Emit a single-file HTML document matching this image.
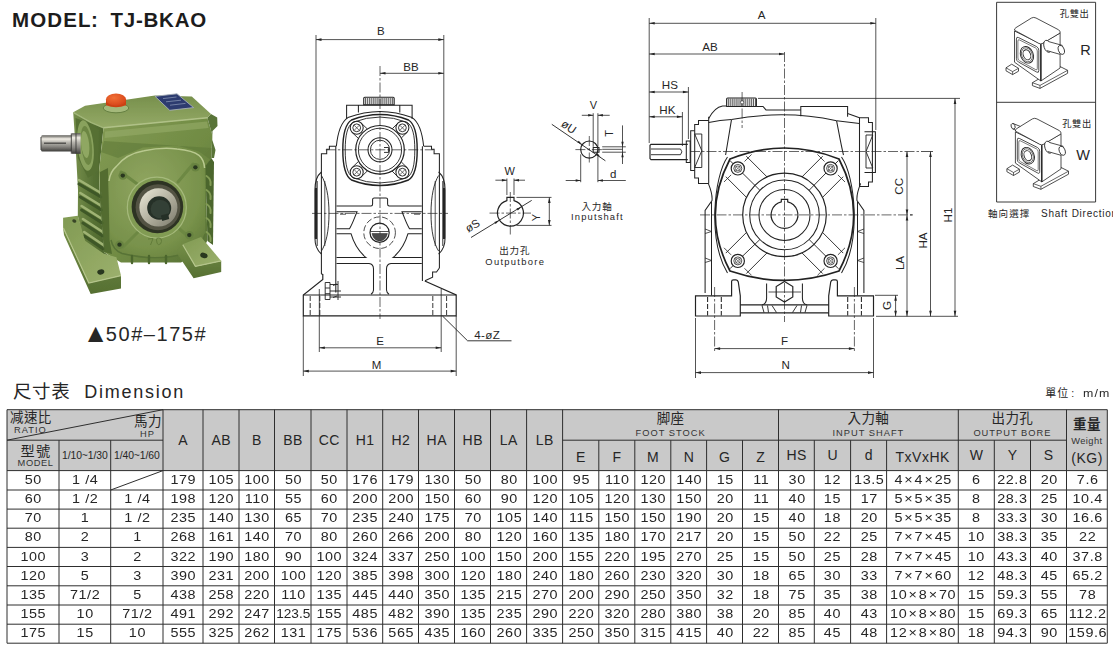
<!DOCTYPE html>
<html lang="zh-Hant"><head><meta charset="utf-8"><title>TJ-BKAO Dimension</title>
<style>
html,body{margin:0;padding:0;background:#fff;}
#page{position:relative;width:1113px;height:653px;overflow:hidden;background:#fff;
 font-family:"Liberation Sans","Noto Sans CJK TC",sans-serif;color:#262626;}
#page svg{position:absolute;left:0;top:0;}
.t{position:absolute;white-space:nowrap;}
.c{position:absolute;text-align:center;white-space:nowrap;}
.d{font-size:12.2px;letter-spacing:0.5px;text-indent:0.5px;margin-top:0.2px;transform:scaleX(1.18);}
.h{font-size:14px;letter-spacing:0.5px;text-indent:0.5px;}
.zh{font-size:13.5px;letter-spacing:0.4px;line-height:16px;}
.en{font-size:9.3px;letter-spacing:1px;line-height:10px;color:#333;}
.sm{font-size:10.4px;letter-spacing:-0.1px;margin-top:1.3px;}
.b{font-weight:bold;}
.n{letter-spacing:0;text-indent:0;transform:scaleX(1.12);}
.x{letter-spacing:0;padding:0 1.6px 0 1.1px;}
svg text{font-family:"Liberation Sans","Noto Sans CJK TC",sans-serif;fill:#262626;}
</style></head><body>
<div id="page">
<svg width="1113" height="653" viewBox="0 0 1113 653">
<g id="photo"><defs>
<linearGradient id="gTop" x1="0" y1="0" x2="0" y2="1"><stop offset="0" stop-color="#7a9552"/><stop offset="1" stop-color="#98b06f"/></linearGradient>
<linearGradient id="gFront" x1="0" y1="0" x2="1" y2="1"><stop offset="0" stop-color="#86a05a"/><stop offset="0.55" stop-color="#73904a"/><stop offset="1" stop-color="#587538"/></linearGradient>
<linearGradient id="gSide" x1="0" y1="0" x2="1" y2="0"><stop offset="0" stop-color="#7a9553"/><stop offset="0.5" stop-color="#5a763a"/><stop offset="1" stop-color="#48632e"/></linearGradient>
<radialGradient id="gFlange" cx="0.4" cy="0.35" r="0.8"><stop offset="0" stop-color="#93ab68"/><stop offset="0.7" stop-color="#7b9751"/><stop offset="1" stop-color="#658140"/></radialGradient>
<linearGradient id="gFootTop" x1="0" y1="0" x2="1" y2="1"><stop offset="0" stop-color="#84a05a"/><stop offset="1" stop-color="#a0b776"/></linearGradient>
<linearGradient id="gFootFront" x1="0" y1="0" x2="0" y2="1"><stop offset="0" stop-color="#77934d"/><stop offset="1" stop-color="#587437"/></linearGradient>
<linearGradient id="gShaft" x1="0" y1="0" x2="0" y2="1"><stop offset="0" stop-color="#5e5e5e"/><stop offset="0.22" stop-color="#f6f6f6"/><stop offset="0.45" stop-color="#b9b9b9"/><stop offset="0.7" stop-color="#8a8a8a"/><stop offset="1" stop-color="#3f3f3f"/></linearGradient>
<linearGradient id="gRing" x1="0" y1="0" x2="1" y2="1"><stop offset="0" stop-color="#f2f2ea"/><stop offset="0.5" stop-color="#b9b9ae"/><stop offset="1" stop-color="#7c7c72"/></linearGradient>
<radialGradient id="gCap" cx="0.4" cy="0.35" r="0.7"><stop offset="0" stop-color="#f7733a"/><stop offset="1" stop-color="#d9461a"/></radialGradient>
<filter id="soft" x="-5%" y="-5%" width="110%" height="110%"><feGaussianBlur stdDeviation="0.55" result="b"/><feColorMatrix in="b" type="matrix" values="0.95 0 0 0 0  0 0.925 0 0 0  0 0 0.85 0 0  0 0 0 1 0"/></filter>
</defs>
<g filter="url(#soft)"><path d="M73.2 112.2L90.7 122.3L103.5 127.8L99 172L100 200L104 252L112 258L100 256L84 243L77.8 215.8L78 190L76 153.5Z" fill="url(#gSide)"/>
<path d="M103.5 127.8L207.4 117.7L212.3 135L211.3 158L207 166L206.3 200L207.5 240L203 250L181 262.5H121L110 256L104 252L100 200L99 172Z" fill="url(#gFront)"/>
<path d="M211 114L217.2 117.5L217.5 126L212.5 131L212.3 140L215.5 150L214 158L211.3 158L212.3 135L207.4 117.7Z" fill="#5b783c"/>
<path d="M73.2 112.2L85.1 105.7L155 95.6L191.8 96.5L211 114L207.4 117.7L103.5 127.8L90.7 122.3Z" fill="url(#gTop)"/>
<path d="M103.5 127.8L207.4 117.7" stroke="#b4c892" stroke-width="1.6" fill="none"/>
<path d="M73.5 112.6L90.7 122.3L103.5 127.8" stroke="#a5bc82" stroke-width="1.3" fill="none"/>
<path d="M90.7 123.5L99 130L98 171L88 178L78 158L75.5 118Z" fill="#587438"/>
<ellipse cx="85.5" cy="145.5" rx="8" ry="25.5" transform="rotate(-6 85.5 145.5)" fill="#8ca765"/>
<ellipse cx="86.5" cy="145.5" rx="5.4" ry="19.5" transform="rotate(-6 86.5 145.5)" fill="#6e8b48"/>
<ellipse cx="85.2" cy="144.5" rx="4" ry="13.5" transform="rotate(-6 85.2 144.5)" fill="#93ad6b"/>
<path d="M79.0 184L101.0 197" stroke="#3f5a29" stroke-width="3" fill="none" stroke-linecap="round"/>
<path d="M79.0 180L101.0 193" stroke="#a3ba7d" stroke-width="2.6" fill="none" stroke-linecap="round"/>
<path d="M80.3 197L101.6 210" stroke="#3f5a29" stroke-width="3" fill="none" stroke-linecap="round"/>
<path d="M80.3 193L101.6 206" stroke="#a3ba7d" stroke-width="2.6" fill="none" stroke-linecap="round"/>
<path d="M81.6 210L102.2 223" stroke="#3f5a29" stroke-width="3" fill="none" stroke-linecap="round"/>
<path d="M81.6 206L102.2 219" stroke="#a3ba7d" stroke-width="2.6" fill="none" stroke-linecap="round"/>
<path d="M82.9 223L102.8 236" stroke="#3f5a29" stroke-width="3" fill="none" stroke-linecap="round"/>
<path d="M82.9 219L102.8 232" stroke="#a3ba7d" stroke-width="2.6" fill="none" stroke-linecap="round"/>
<path d="M84.2 236L103.4 249" stroke="#3f5a29" stroke-width="3" fill="none" stroke-linecap="round"/>
<path d="M84.2 232L103.4 245" stroke="#a3ba7d" stroke-width="2.6" fill="none" stroke-linecap="round"/>
<path d="M101 152L118 158L143 147.5L177 145.5L199 151.5L210.8 160L211.6 148L104 141Z" fill="#5f7c3d" opacity="0.55"/>
<path d="M105 131.5L207 121.5L208.5 128L104.6 138Z" fill="#9ab372" opacity="0.6"/>
<path d="M100 172L108 168L109.5 240L112 254L104 252L100 200Z" fill="#506b33" opacity="0.9"/>
<path d="M205.5 166L211.3 158L214 162L213 245L207.5 241L206.3 200Z" fill="#4e6a32"/>
<path d="M206.5 176Q211.5 179 210.5 185" stroke="#86a25c" stroke-width="2" fill="none" stroke-linecap="round"/>
<path d="M206.5 190Q211.5 193 210.5 199" stroke="#86a25c" stroke-width="2" fill="none" stroke-linecap="round"/>
<path d="M206.5 204Q211.5 207 210.5 213" stroke="#86a25c" stroke-width="2" fill="none" stroke-linecap="round"/>
<path d="M206.5 218Q211.5 221 210.5 227" stroke="#86a25c" stroke-width="2" fill="none" stroke-linecap="round"/>
<path d="M206.5 232Q211.5 235 210.5 241" stroke="#86a25c" stroke-width="2" fill="none" stroke-linecap="round"/>
<path d="M116.4 166.4Q126 154 144 150.8Q162 147 177 149Q193 150.5 199 155.4Q204.5 160 204.8 170L205.2 232Q203 246 190 251.5Q160 262 121 253Q111.5 248 110.2 236L108.6 183Q109.5 173 116.4 166.4Z" fill="url(#gFlange)"/>
<path d="M109 181Q110 172 116.4 166.4Q126 154 144 150.8Q162 147 177 149Q193 150.5 199 155.4Q204 159.5 204.6 168" stroke="#bdd09a" stroke-width="1.5" fill="none"/>
<path d="M111 240Q113 250 122 253.5Q160 262.5 190 252Q202 247 205 234" stroke="#5a773b" stroke-width="1.4" fill="none"/>
<path d="M121 172L140 186M193 164L178 182M123 247L140 230M190 238L176 226" stroke="#6f8d49" stroke-width="3" fill="none" stroke-linecap="round"/>
<ellipse cx="156.8" cy="207.6" rx="29.5" ry="30.5" fill="#84a05a"/>
<ellipse cx="156.8" cy="207.6" rx="29.5" ry="30.5" fill="none" stroke="#a9c085" stroke-width="1.2"/>
<ellipse cx="157.4" cy="206.8" rx="25.8" ry="26.4" fill="#2f3426"/>
<ellipse cx="158" cy="207.2" rx="22.4" ry="23" fill="#55564a"/>
<ellipse cx="158.4" cy="207.4" rx="19" ry="19.2" fill="url(#gRing)"/>
<ellipse cx="159.2" cy="208" rx="12" ry="11.8" fill="#26302a"/>
<ellipse cx="160.2" cy="209" rx="9.6" ry="9.2" fill="#35423a"/>
<path d="M161 215.5L168.2 213.6L169.2 219L162.2 221Z" fill="#26302a"/>
<ellipse cx="122.8" cy="175.6" rx="4.4" ry="4.2" fill="#6b8846"/>
<ellipse cx="122.8" cy="175.6" rx="2.2" ry="2.1" fill="#2c3a22"/>
<ellipse cx="195.4" cy="167.3" rx="4.4" ry="4.2" fill="#6b8846"/>
<ellipse cx="195.4" cy="167.3" rx="2.2" ry="2.1" fill="#2c3a22"/>
<ellipse cx="119.5" cy="244.7" rx="4.4" ry="4.2" fill="#6b8846"/>
<ellipse cx="119.5" cy="244.7" rx="2.2" ry="2.1" fill="#2c3a22"/>
<ellipse cx="189.3" cy="235.1" rx="4.4" ry="4.2" fill="#6b8846"/>
<ellipse cx="189.3" cy="235.1" rx="2.2" ry="2.1" fill="#2c3a22"/>
<path d="M148 239L153 238.5L150.5 245M156.5 240Q156 237.8 159 238Q162 238.4 161.5 241.5Q161 244.8 158.6 244.6Q156.6 244.4 156.5 240Z" stroke="#658140" stroke-width="1" fill="none"/>
<path d="M132 256V263" stroke="#4e6a33" stroke-width="2.4" fill="none" stroke-linecap="round"/>
<path d="M149 256V263" stroke="#4e6a33" stroke-width="2.4" fill="none" stroke-linecap="round"/>
<path d="M166 256V263" stroke="#4e6a33" stroke-width="2.4" fill="none" stroke-linecap="round"/>
<path d="M63.1 227.8L88.8 283L121 275.6V288.5L90.7 294L64 235.1Z" fill="url(#gFootFront)"/>
<path d="M63.1 217.7L77.8 215.8L85.1 240.7L103.5 253.5L116.4 257.2L121 275.6L88.8 283L63.1 227.8Z" fill="url(#gFootTop)"/>
<path d="M63.4 228L88.8 283L121 275.6" stroke="#b9cc96" stroke-width="1.2" fill="none"/>
<ellipse cx="100.8" cy="271.9" rx="3.6" ry="2.6" transform="rotate(-15 100.8 271.9)" fill="#2c3a22"/>
<ellipse cx="74.3" cy="221" rx="2.2" ry="1.6" transform="rotate(30 74.3 221)" fill="#3a4a2b"/>
<path d="M177 253.5L182.6 244.3L195.4 266.4L221.2 260.9V272L193.6 278.3Z" fill="url(#gFootFront)"/>
<path d="M182.6 244.3L201 237L221.2 260.9L195.4 266.4Z" fill="url(#gFootTop)"/>
<path d="M182.8 244.8L195.4 266.4L221.2 260.9" stroke="#b9cc96" stroke-width="1.2" fill="none"/>
<ellipse cx="203.9" cy="255.4" rx="3.8" ry="2.6" transform="rotate(15 203.9 255.4)" fill="#2c3a22"/>
<path d="M42.5 135.3H78V151.6H42.5Q41 151.6 41 150V137Q41 135.3 42.5 135.3Z" fill="url(#gShaft)"/>
<path d="M71.6 133.2H80.6V153.8H71.6Z" fill="url(#gShaft)"/>
<path d="M41 137V150" stroke="#444" stroke-width="1" fill="none"/>
<path d="M44 143.2H66" stroke="#4a4a4a" stroke-width="1.3" fill="none"/>
<path d="M71.3 133.5V153.6M76 133.5V153.6" stroke="#3c3c3c" stroke-width="0.9" fill="none"/>
<ellipse cx="116" cy="108" rx="12.8" ry="4.8" fill="#a8bf84" stroke="#627f42" stroke-width="0.9"/>
<path d="M106 99.5V105.2Q116 109.5 126 105.2V99.5Z" fill="#cf4417"/>
<ellipse cx="116" cy="99.6" rx="10.1" ry="6.1" fill="url(#gCap)"/>
<path d="M155 96.3L177 93.8L193.6 107.6L169.7 110.3Z" fill="#2d3e78" stroke="#aab3c6" stroke-width="0.9"/>
<path d="M163 98.6L176.5 97M166 101.8L181 100.2M170 105.2L185.5 103.4" stroke="#7d8bb5" stroke-width="0.9" fill="none"/></g></g>
<g id="front"><path d="M316 35V198M443.8 35V227" fill="none" stroke="#222" stroke-width="0.78" />
<path d="M316 39.6H443.8" fill="none" stroke="#222" stroke-width="0.78" /><path d="M316.0 39.6L321.5 38.3L321.5 40.9Z" fill="#222"/><path d="M443.8 39.6L438.3 40.9L438.3 38.3Z" fill="#222"/>
<path d="M380 73.3H443.8" fill="none" stroke="#222" stroke-width="0.78" /><path d="M380.0 73.3L385.5 72.0L385.5 74.6Z" fill="#222"/><path d="M443.8 73.3L438.3 74.6L438.3 72.0Z" fill="#222"/>
<path d="M380 66V319" fill="none" stroke="#222" stroke-width="0.69" stroke-dasharray="10 2 2.5 2"/>
<text x="380.8" y="34.9" font-size="11.5" text-anchor="middle" >B</text>
<text x="410.9" y="70.9" font-size="11.5" text-anchor="middle" >BB</text>
<path d="M363.7 104.7V98.3Q363.7 97.3 364.7 97.3H393.2Q394.2 97.3 394.2 98.3V104.7Z" fill="none" stroke="#222" stroke-width="1.04" />
<path d="M365.4 98V104.5M367.3 98V104.5M369.3 98V104.5M371.2 98V104.5M373.2 98V104.5M375.1 98V104.5M377.1 98V104.5M379.0 98V104.5M381.0 98V104.5M382.9 98V104.5M384.9 98V104.5M386.8 98V104.5M388.8 98V104.5M390.8 98V104.5M392.7 98V104.5" fill="none" stroke="#222" stroke-width="0.81" />
<path d="M346.6 119V105.3H412.1V119M358.4 105.3V112.5M399.8 105.3V112.5" fill="none" stroke="#222" stroke-width="1.04" />
<path d="M336.4 146C338 130 342 121.5 347.9 117.6Q380 105.5 412.1 117.6C418 121.5 422 130 423.6 146" fill="none" stroke="#222" stroke-width="1.04" />
<path d="M342.8 150C342.8 134 345 124 351.5 120Q380 109 408.5 120C415 124 417.2 134 417.2 150C417.2 166 415 176 408.5 180Q380 191 351.5 180C345 176 342.8 166 342.8 150Z" fill="none" stroke="#222" stroke-width="1.43" />
<path d="M345.2 150C345.2 135.5 347.2 126 353 122.3Q380 111.8 407 122.3C412.8 126 414.8 135.5 414.8 150C414.8 164.5 412.8 174 407 177.7Q380 188.2 353 177.7C347.2 174 345.2 164.5 345.2 150Z" fill="none" stroke="#222" stroke-width="0.91" />
<circle cx="356.7" cy="127.8" r="6.5" fill="none" stroke="#222" stroke-width="1.04" />
<circle cx="356.7" cy="127.8" r="3.9" fill="none" stroke="#222" stroke-width="0.91" />
<path d="M354.0 125.1L359.4 130.5M359.4 125.1L354.0 130.5" fill="none" stroke="#222" stroke-width="0.65" />
<path d="M352.2 132.5L358.5 138.5" fill="none" stroke="#222" stroke-width="0.91" />
<path d="M361.2 123.1L367.4 129.0" fill="none" stroke="#222" stroke-width="0.91" />
<circle cx="402.4" cy="127.8" r="6.5" fill="none" stroke="#222" stroke-width="1.04" />
<circle cx="402.4" cy="127.8" r="3.9" fill="none" stroke="#222" stroke-width="0.91" />
<path d="M399.7 125.1L405.09999999999997 130.5M405.09999999999997 125.1L399.7 130.5" fill="none" stroke="#222" stroke-width="0.65" />
<path d="M397.8 123.2L392.2 128.8" fill="none" stroke="#222" stroke-width="0.91" />
<path d="M407.0 132.4L401.3 138.0" fill="none" stroke="#222" stroke-width="0.91" />
<circle cx="356.7" cy="172.2" r="6.5" fill="none" stroke="#222" stroke-width="1.04" />
<circle cx="356.7" cy="172.2" r="3.9" fill="none" stroke="#222" stroke-width="0.91" />
<path d="M354.0 169.5L359.4 174.89999999999998M359.4 169.5L354.0 174.89999999999998" fill="none" stroke="#222" stroke-width="0.65" />
<path d="M361.2 176.9L367.6 170.7" fill="none" stroke="#222" stroke-width="0.91" />
<path d="M352.2 167.5L358.6 161.3" fill="none" stroke="#222" stroke-width="0.91" />
<circle cx="402.4" cy="172.2" r="6.5" fill="none" stroke="#222" stroke-width="1.04" />
<circle cx="402.4" cy="172.2" r="3.9" fill="none" stroke="#222" stroke-width="0.91" />
<path d="M399.7 169.5L405.09999999999997 174.89999999999998M405.09999999999997 169.5L399.7 174.89999999999998" fill="none" stroke="#222" stroke-width="0.65" />
<path d="M407.0 167.6L401.2 161.8" fill="none" stroke="#222" stroke-width="0.91" />
<path d="M397.8 176.8L392.0 171.0" fill="none" stroke="#222" stroke-width="0.91" />
<circle cx="380" cy="149.8" r="24.3" fill="none" stroke="#222" stroke-width="1.17" />
<circle cx="380" cy="149.8" r="21.6" fill="none" stroke="#222" stroke-width="0.91" />
<circle cx="380" cy="149.8" r="12" fill="none" stroke="#222" stroke-width="1.04" />
<circle cx="380" cy="149.8" r="9.6" fill="none" stroke="#222" stroke-width="0.91" />
<path d="M384 147.5H388.6V152.4H384" fill="none" stroke="#222" stroke-width="0.91" />
<path d="M325.8 149.8H433.3" fill="none" stroke="#222" stroke-width="0.69" stroke-dasharray="10 2 2.5 2"/>
<path d="M321.4 274V153.7H326.7V149.3H329.4V146.3H336.4" fill="none" stroke="#222" stroke-width="1.04" />
<path d="M439.4 268V153.7H434.1V149.3H431.5V146.3H423.6" fill="none" stroke="#222" stroke-width="1.04" />
<path d="M335.8 146.3V292.5M422.4 146.3V281" fill="none" stroke="#222" stroke-width="1.04" />
<path d="M321.4 172C316.5 176 314.9 183 314.9 190V237.5C314.9 244 316.5 250 321.4 254" fill="none" stroke="#222" stroke-width="1.04" />
<path d="M321.4 175.5C326 183 329 196 329 213.4C329 231 326 244 321.4 251" fill="none" stroke="#222" stroke-width="0.91" />
<path d="M317.2 181V246" fill="none" stroke="#222" stroke-width="0.91" />
<path d="M316 188V239" fill="none" stroke="#222" stroke-width="1.95" />
<path d="M324.8 181V246" fill="none" stroke="#222" stroke-width="0.78" />
<path d="M438.6 172C443.5 176 445.1 183 445.1 190V237.5C445.1 244 443.5 250 438.6 254" fill="none" stroke="#222" stroke-width="1.04" />
<path d="M438.6 175.5C434 183 431 196 431 213.4C431 231 434 244 438.6 251" fill="none" stroke="#222" stroke-width="0.91" />
<path d="M442.8 181V246" fill="none" stroke="#222" stroke-width="0.91" />
<path d="M444 188V239" fill="none" stroke="#222" stroke-width="1.95" />
<path d="M435.2 181V246" fill="none" stroke="#222" stroke-width="0.78" />
<path d="M312 213.4H448" fill="none" stroke="#222" stroke-width="0.69" stroke-dasharray="10 2 2.5 2"/>
<path d="M336.5 206H371Q372.6 206 372.6 204V199.5Q372.6 197.9 374.2 197.9H386Q387.6 197.9 387.6 199.5V204Q387.6 206 389.2 206H421.8" fill="none" stroke="#222" stroke-width="1.04" />
<path d="M336.5 211.8H357C354 219 352.5 224 349.5 228.7H336.5" fill="none" stroke="#222" stroke-width="1.04" />
<path d="M421.8 211.8H402C405 219 406.5 224 409.5 228.7H421.8" fill="none" stroke="#222" stroke-width="1.04" />
<path d="M336.5 233.7H351C354 244 358 251 366 257.6H336.5" fill="none" stroke="#222" stroke-width="1.04" />
<path d="M421.8 233.7H408C405 244 401 251 393 257.6H421.8" fill="none" stroke="#222" stroke-width="1.04" />
<path d="M336.5 263.5H369Q373.5 264 373.5 269V290Q373.3 293 371 294.3" fill="none" stroke="#222" stroke-width="1.04" />
<path d="M421.8 263.5H391Q386.5 264 386.5 269V290Q386.7 293 389 294.3" fill="none" stroke="#222" stroke-width="1.04" />
<path d="M340 214.2H346M414 214.2H420" fill="none" stroke="#222" stroke-width="0.78" />
<circle cx="379.6" cy="232.7" r="9.6" fill="none" stroke="#222" stroke-width="1.17" />
<circle cx="379.6" cy="232.7" r="15.8" fill="none" stroke="#222" stroke-width="0.8" stroke-dasharray="6 2.5"/>
<path d="M372 233.5H387.4C386 239 383 241 379.6 241C376.2 241 373.4 239 372 233.5Z" fill="#4a4a4a" stroke="#222" stroke-width="0.5"/>
<path d="M370.5 231.5H388.8" fill="none" stroke="#222" stroke-width="0.78" />
<path d="M321.4 274L322.8 274.5V279.5L303.3 295V315.8H456.2V295L424.8 281" fill="none" stroke="#222" stroke-width="1.17" />
<path d="M439.4 268L436.5 272H432.6V277.2L425 280.8" fill="none" stroke="#222" stroke-width="1.04" />
<path d="M303.3 295H456.2" fill="none" stroke="#222" stroke-width="1.04" />
<path d="M310.2 296V315.5M319.8 296V315.5M432.8 296V315.5M446.6 296V315.5" fill="none" stroke="#222" stroke-width="0.91" stroke-dasharray="5 2"/>
<path d="M325.2 282.5H330V299.5H325.2ZM325.2 288H330M325.2 293.7H330M330 284.5H338M330 291H341M330 297H341M338 281V300" fill="none" stroke="#222" stroke-width="0.91" />
<path d="M333 285.5L337 284M333 297.5L337 296" fill="none" stroke="#222" stroke-width="0.91" />
<path d="M319.3 289V352M441.2 289V352M303.3 316V376M456.2 316V376" fill="none" stroke="#222" stroke-width="0.78" />
<path d="M319.3 347.8H441.2" fill="none" stroke="#222" stroke-width="0.78" /><path d="M319.3 347.8L324.8 346.5L324.8 349.1Z" fill="#222"/><path d="M441.2 347.8L435.7 349.1L435.7 346.5Z" fill="#222"/>
<path d="M303.3 371.1H456.2" fill="none" stroke="#222" stroke-width="0.78" /><path d="M303.3 371.1L308.8 369.8L308.8 372.4Z" fill="#222"/><path d="M456.2 371.1L450.7 372.4L450.7 369.8Z" fill="#222"/>
<text x="380" y="345" font-size="11.5" text-anchor="middle" >E</text>
<text x="376.5" y="368.5" font-size="11.5" text-anchor="middle" >M</text>
<path d="M442.5 316L467.6 340.8H511.5" fill="none" stroke="#222" stroke-width="0.91" />
<text x="487.2" y="339" font-size="11.6" text-anchor="middle" letter-spacing="0.3">4-øZ</text></g>
<g id="mid"><path d="M514.0 200.6A13 13 0 1 1 506.9 200.6V197.4H514.0Z" fill="none" stroke="#222" stroke-width="1.17" />
<path d="M489.5 213.1H531" fill="none" stroke="#222" stroke-width="0.69" stroke-dasharray="10 2 2.5 2"/>
<path d="M510.3 192V234.5" fill="none" stroke="#222" stroke-width="0.69" stroke-dasharray="10 2 2.5 2"/>
<path d="M506.9 178.5V195M514.0 178.5V195" fill="none" stroke="#222" stroke-width="0.78" />
<path d="M495.4 180.2H506.9M514.0 180.2H525" fill="none" stroke="#222" stroke-width="0.78" />
<path d="M506.9 180.2L501.9 181.4L501.9 179.0Z" fill="#222"/><path d="M514.0 180.2L519.0 179.0L519.0 181.4Z" fill="#222"/>
<text x="509.6" y="175" font-size="11" text-anchor="middle" >W</text>
<path d="M516.5 197.4H551.5M516.5 225.4H551.5" fill="none" stroke="#222" stroke-width="0.78" />
<path d="M549.3 197.4V225.4" fill="none" stroke="#222" stroke-width="0.78" /><path d="M549.3 197.4L550.6 202.9L548.0 202.9Z" fill="#222"/><path d="M549.3 225.4L548.0 219.9L550.6 219.9Z" fill="#222"/>
<text x="540" y="217.5" font-size="11" text-anchor="middle" transform="rotate(-90 540 217.5)" >Y</text>
<path d="M471 237.5L531.7 200.4" fill="none" stroke="#222" stroke-width="0.91" />
<path d="M499.2 220.5L495.6 224.1L494.3 222.1Z" fill="#222"/>
<path d="M521.4 206.9L517.8 210.6L516.5 208.5Z" fill="#222"/>
<text x="474.5" y="229" font-size="11.5" text-anchor="middle" transform="rotate(-31 474.5 229)" >øS</text>
<text x="514.8" y="253.5" font-size="9.5" text-anchor="middle" letter-spacing="0.9">出力孔</text>
<text x="515.3" y="264.8" font-size="9.4" text-anchor="middle" letter-spacing="1.3">Outputbore</text>
<circle cx="589.3" cy="149.6" r="8.6" fill="none" stroke="#222" stroke-width="1.17" />
<path d="M593.2 147.5H599V152.2H593.2Z" fill="none" stroke="#222" stroke-width="1.04" />
<path d="M575.4 149.6H602.5" fill="none" stroke="#222" stroke-width="0.69" stroke-dasharray="10 2 2.5 2"/>
<path d="M589.3 136V163.5" fill="none" stroke="#222" stroke-width="0.69" stroke-dasharray="10 2 2.5 2"/>
<path d="M593.2 113.2V146.8M597.9 113.2V146.8" fill="none" stroke="#222" stroke-width="0.78" />
<path d="M581.8 115.3H593.2M597.9 115.3H609.7" fill="none" stroke="#222" stroke-width="0.78" />
<path d="M593.2 115.3L588.2 116.5L588.2 114.1Z" fill="#222"/><path d="M597.9 115.3L602.9 114.1L602.9 116.5Z" fill="#222"/>
<text x="593.4" y="108.8" font-size="11" text-anchor="middle" >V</text>
<path d="M602.2 146.8H625.8M602.2 152.2H625.8M602.2 149.3H622.5" fill="none" stroke="#222" stroke-width="0.78" />
<path d="M622.5 125.4V164" fill="none" stroke="#222" stroke-width="0.78" />
<path d="M622.5 146.8L621.3 141.8L623.7 141.8Z" fill="#222"/><path d="M622.5 152.2L623.7 157.2L621.3 157.2Z" fill="#222"/>
<text x="612.9" y="133.5" font-size="11" text-anchor="middle" transform="rotate(-90 612.9 133.5)" >T</text>
<path d="M580.7 154.3V182.2M597.9 154.3V182.2" fill="none" stroke="#222" stroke-width="0.78" />
<path d="M565.7 180.5H580.7M597.9 180.5H625.8" fill="none" stroke="#222" stroke-width="0.78" />
<path d="M580.7 180.5L575.7 181.7L575.7 179.3Z" fill="#222"/><path d="M597.9 180.5L602.9 179.3L602.9 181.7Z" fill="#222"/>
<text x="613.2" y="178.3" font-size="11.5" text-anchor="middle" >d</text>
<path d="M551.8 124.3L605.4 160.8" fill="none" stroke="#222" stroke-width="0.91" />
<path d="M582.2 144.5L577.4 142.6L578.7 140.7Z" fill="#222"/>
<path d="M600.5 157.0L595.7 155.1L597.1 153.1Z" fill="#222"/>
<text x="566.5" y="130" font-size="11.5" text-anchor="middle" transform="rotate(34 566.5 130)" >øU</text>
<text x="597" y="210.3" font-size="9.5" text-anchor="middle" letter-spacing="0.9">入力軸</text>
<text x="597.4" y="219.8" font-size="9.4" text-anchor="middle" letter-spacing="1.15">Inputshaft</text></g>
<g id="side"><path d="M649.2 18V143M875.8 18V130" fill="none" stroke="#222" stroke-width="0.78" />
<path d="M649.2 23.3H875.8" fill="none" stroke="#222" stroke-width="0.78" /><path d="M649.2 23.3L654.7 22.0L654.7 24.6Z" fill="#222"/><path d="M875.8 23.3L870.3 24.6L870.3 22.0Z" fill="#222"/>
<path d="M649.2 54H784.5" fill="none" stroke="#222" stroke-width="0.78" /><path d="M649.2 54.0L654.7 52.7L654.7 55.3Z" fill="#222"/><path d="M784.5 54.0L779.0 55.3L779.0 52.7Z" fill="#222"/>
<path d="M688.4 87V139M682.4 112V146" fill="none" stroke="#222" stroke-width="0.78" />
<path d="M649.2 92H688.4" fill="none" stroke="#222" stroke-width="0.78" /><path d="M649.2 92.0L654.7 90.7L654.7 93.3Z" fill="#222"/><path d="M688.4 92.0L682.9 93.3L682.9 90.7Z" fill="#222"/>
<path d="M649.2 116.8H682.4" fill="none" stroke="#222" stroke-width="0.78" /><path d="M649.2 116.8L654.7 115.5L654.7 118.1Z" fill="#222"/><path d="M682.4 116.8L676.9 118.1L676.9 115.5Z" fill="#222"/>
<text x="761.6" y="19.4" font-size="11.6" text-anchor="middle" >A</text>
<text x="710.1" y="50.8" font-size="11.6" text-anchor="middle" >AB</text>
<text x="669.9" y="88.7" font-size="11.6" text-anchor="middle" >HS</text>
<text x="667.4" y="113.5" font-size="11.6" text-anchor="middle" >HK</text>
<path d="M784.5 52V322" fill="none" stroke="#222" stroke-width="0.69" stroke-dasharray="10 2 2.5 2"/>
<path d="M742.1 92V128" fill="none" stroke="#222" stroke-width="0.69" stroke-dasharray="10 2 2.5 2"/>
<path d="M690 151.5H921" fill="none" stroke="#222" stroke-width="0.69" stroke-dasharray="10 2 2.5 2"/>
<path d="M700 214.9H912" fill="none" stroke="#222" stroke-width="0.69" stroke-dasharray="10 2 2.5 2"/>
<path d="M687.8 144.3H651L650 145.3V158.6L651 159.6H687.8" fill="none" stroke="#222" stroke-width="1.17" />
<path d="M651 149H680.5Q683.3 151.8 680.5 154.7H651" fill="none" stroke="#222" stroke-width="0.91" />
<path d="M686.3 141H690.2V162.5H686.3Z" fill="none" stroke="#222" stroke-width="1.04" />
<path d="M694.7 130.8H690.7V170.6H694.7" fill="none" stroke="#222" stroke-width="1.04" />
<path d="M694.7 134L701.8 150.7L694.7 167.5M701.8 134V167.5M694.7 134H701.8M694.7 167.5H701.8" fill="none" stroke="#222" stroke-width="0.91" />
<path d="M708.7 183.4H698.5V178H694.7V124.5H698.5V120.4H708.7" fill="none" stroke="#222" stroke-width="1.04" />
<path d="M708.7 116.8V183.4" fill="none" stroke="#222" stroke-width="1.04" />
<path d="M708.7 118.5C712 112 716 107 722.6 105.9H726.6M756.4 106.5H763L766 109.9H800.8" fill="none" stroke="#222" stroke-width="1.04" />
<path d="M708.7 122.5Q720 120.3 731.5 119.6" fill="none" stroke="#222" stroke-width="1.04" />
<path d="M726.6 106.5V99Q726.6 97.9 727.7 97.9H755.3Q756.4 97.9 756.4 99V106.5Z" fill="none" stroke="#222" stroke-width="1.04" />
<path d="M728.3 98.6V106M730.2 98.6V106M732.2 98.6V106M734.1 98.6V106M736.1 98.6V106M738.0 98.6V106M740.0 98.6V106M741.9 98.6V106M743.9 98.6V106M745.8 98.6V106M747.8 98.6V106M749.8 98.6V106M751.7 98.6V106M753.6 98.6V106M755.6 98.6V106" fill="none" stroke="#222" stroke-width="0.81" />
<circle cx="742.1" cy="102.3" r="1.6" fill="#fff" stroke="#222" stroke-width="0.6"/>
<path d="M800.8 116.2V106.5H847.6V116.8" fill="none" stroke="#222" stroke-width="1.04" />
<path d="M847.6 113.5L859.5 117.8" fill="none" stroke="#222" stroke-width="1.04" />
<path d="M731.5 119.6Q784.5 109.5 836.6 120.8" fill="none" stroke="#222" stroke-width="1.04" />
<path d="M731.5 119.6C729.5 132 727.5 144 725.6 155M836.6 120.8C839 133 841 145 843.5 155" fill="none" stroke="#222" stroke-width="1.04" />
<path d="M836.6 120.8L859.5 123.5" fill="none" stroke="#222" stroke-width="1.04" />
<path d="M859.5 117.8V186.5H868.5V182H872.4V122.5H868.5V117.8Z" fill="none" stroke="#222" stroke-width="1.04" />
<path d="M864.5 131.8H875.4V172.6H864.5" fill="none" stroke="#222" stroke-width="1.04" />
<path d="M872.8 135L866 151.5L872.8 168M866 135V168M866 135H872.8M866 168H872.8" fill="none" stroke="#222" stroke-width="0.91" />
<path d="M730 159Q784.5 137 839 159Q868.4 215 839 271Q784.5 289.8 730 271Q700.6 215 730 159Z" fill="none" stroke="#222" stroke-width="1.69" />
<path d="M727.5 157C714 176 707.5 240 727.5 273M841.5 157C855 176 861.5 240 841.5 273" fill="none" stroke="#222" stroke-width="1.04" />
<circle cx="784.5" cy="214.9" r="41.8" fill="none" stroke="#222" stroke-width="1.17" />
<circle cx="784.5" cy="214.9" r="34.8" fill="none" stroke="#222" stroke-width="1.04" />
<circle cx="784.5" cy="214.9" r="25.5" fill="none" stroke="#222" stroke-width="1.04" />
<path d="M787.7 201.9A13.4 13.4 0 1 1 781.3 201.9V199.3H787.7Z" fill="none" stroke="#222" stroke-width="1.17" />
<circle cx="737.8" cy="168.4" r="6.6" fill="none" stroke="#222" stroke-width="1.17" />
<circle cx="737.8" cy="168.4" r="4.0" fill="none" stroke="#222" stroke-width="0.78" />
<circle cx="737.8" cy="168.4" r="2.4" fill="none" stroke="#222" stroke-width="0.65" />
<path d="M735.0 165.6L740.5999999999999 171.20000000000002M740.5999999999999 165.6L735.0 171.20000000000002" fill="none" stroke="#222" stroke-width="0.52" />
<path d="M759.9 190.3L742.3 172.9M733.3 163.9L730.0 160.6" fill="none" stroke="#222" stroke-width="0.91" />
<path d="M767.0 176.9L746.3 156.2" fill="none" stroke="#222" stroke-width="0.91" />
<path d="M746.5 197.4L725.8 176.7" fill="none" stroke="#222" stroke-width="0.91" />
<path d="M744.5 161.5L751.6 154.4" fill="none" stroke="#222" stroke-width="0.78" />
<path d="M724.0 182.0L731.1 174.9" fill="none" stroke="#222" stroke-width="0.78" />
<circle cx="830.6" cy="168.4" r="6.6" fill="none" stroke="#222" stroke-width="1.17" />
<circle cx="830.6" cy="168.4" r="4.0" fill="none" stroke="#222" stroke-width="0.78" />
<circle cx="830.6" cy="168.4" r="2.4" fill="none" stroke="#222" stroke-width="0.65" />
<path d="M827.8000000000001 165.6L833.4 171.20000000000002M833.4 165.6L827.8000000000001 171.20000000000002" fill="none" stroke="#222" stroke-width="0.52" />
<path d="M809.1 190.3L826.1 172.9M835.1 163.9L838.4 160.6" fill="none" stroke="#222" stroke-width="0.91" />
<path d="M822.5 197.4L843.2 176.7" fill="none" stroke="#222" stroke-width="0.91" />
<path d="M802.0 176.9L822.7 156.2" fill="none" stroke="#222" stroke-width="0.91" />
<path d="M837.9 174.9L845.0 182.0" fill="none" stroke="#222" stroke-width="0.78" />
<path d="M817.4 154.4L824.5 161.5" fill="none" stroke="#222" stroke-width="0.78" />
<circle cx="737.8" cy="260.9" r="6.6" fill="none" stroke="#222" stroke-width="1.17" />
<circle cx="737.8" cy="260.9" r="4.0" fill="none" stroke="#222" stroke-width="0.78" />
<circle cx="737.8" cy="260.9" r="2.4" fill="none" stroke="#222" stroke-width="0.65" />
<path d="M735.0 258.09999999999997L740.5999999999999 263.7M740.5999999999999 258.09999999999997L735.0 263.7" fill="none" stroke="#222" stroke-width="0.52" />
<path d="M759.9 239.5L742.3 256.4M733.3 265.4L730.0 268.7" fill="none" stroke="#222" stroke-width="0.91" />
<path d="M746.5 232.4L725.8 253.1" fill="none" stroke="#222" stroke-width="0.91" />
<path d="M767.0 252.9L746.3 273.6" fill="none" stroke="#222" stroke-width="0.91" />
<path d="M731.1 254.9L724.0 247.8" fill="none" stroke="#222" stroke-width="0.78" />
<path d="M751.6 275.4L744.5 268.3" fill="none" stroke="#222" stroke-width="0.78" />
<circle cx="830.6" cy="260.9" r="6.6" fill="none" stroke="#222" stroke-width="1.17" />
<circle cx="830.6" cy="260.9" r="4.0" fill="none" stroke="#222" stroke-width="0.78" />
<circle cx="830.6" cy="260.9" r="2.4" fill="none" stroke="#222" stroke-width="0.65" />
<path d="M827.8000000000001 258.09999999999997L833.4 263.7M833.4 258.09999999999997L827.8000000000001 263.7" fill="none" stroke="#222" stroke-width="0.52" />
<path d="M809.1 239.5L826.1 256.4M835.1 265.4L838.4 268.7" fill="none" stroke="#222" stroke-width="0.91" />
<path d="M802.0 252.9L822.7 273.6" fill="none" stroke="#222" stroke-width="0.91" />
<path d="M822.5 232.4L843.2 253.1" fill="none" stroke="#222" stroke-width="0.91" />
<path d="M824.5 268.3L817.4 275.4" fill="none" stroke="#222" stroke-width="0.78" />
<path d="M845.0 247.8L837.9 254.9" fill="none" stroke="#222" stroke-width="0.78" />
<path d="M708.3 183.4C711.0 190 712.5 196 712.0 200.6L705.1 210.4V293" fill="none" stroke="#222" stroke-width="1.04" />
<path d="M711.5 202V295.5" fill="none" stroke="#222" stroke-width="1.04" />
<path d="M705.1 229L711.5 231.5L705.1 233.5M705.1 258L711.5 260.5L705.1 262.5" fill="none" stroke="#222" stroke-width="0.78" />
<path d="M695.5 295.8H731.6V281.5Q731.6 279.8 733.5 279.8H736.0Q737.8 279.8 738.3 282L740.3 295.8V316H695.5Z" fill="none" stroke="#222" stroke-width="1.17" />
<path d="M707.6 297V315.5M721.3 297V315.5" fill="none" stroke="#222" stroke-width="1.04" stroke-dasharray="5 2"/>
<path d="M714.6 287V352" fill="none" stroke="#222" stroke-width="0.69" stroke-dasharray="10 2 2.5 2"/>
<path d="M860.7 183.4C858.0 190 856.5 196 857.0 200.6L863.9 210.4V293" fill="none" stroke="#222" stroke-width="1.04" />
<path d="M857.5 202V295.5" fill="none" stroke="#222" stroke-width="1.04" />
<path d="M863.9 229L857.5 231.5L863.9 233.5M863.9 258L857.5 260.5L863.9 262.5" fill="none" stroke="#222" stroke-width="0.78" />
<path d="M873.5 295.8H837.4V281.5Q837.4 279.8 835.5 279.8H833.0Q831.2 279.8 830.7 282L828.7 295.8V316H873.5Z" fill="none" stroke="#222" stroke-width="1.17" />
<path d="M861.4 297V315.5M847.7 297V315.5" fill="none" stroke="#222" stroke-width="1.04" stroke-dasharray="5 2"/>
<path d="M854.4 287V352" fill="none" stroke="#222" stroke-width="0.69" stroke-dasharray="10 2 2.5 2"/>
<path d="M740.3 304.9H828.7M740.3 312.8H828.7" fill="none" stroke="#222" stroke-width="1.17" />
<path d="M766.6 283.5V298Q766.6 304 762 304.9M802.4 283.5V298Q802.4 304 807 304.9" fill="none" stroke="#222" stroke-width="1.04" />
<path d="M762 305.5L764 312.5M767.5 305.5L768.5 312.5M772 305.5L776.5 312.5M807 305.5L805 312.5M801.5 305.5L800.5 312.5M797 305.5L792.5 312.5" fill="none" stroke="#222" stroke-width="0.91" />
<path d="M784.5 281.5L792.8 286.5V297L784.5 302L776.2 297V286.5Z" fill="none" stroke="#222" stroke-width="1.17" />
<path d="M768.5 292H801" fill="none" stroke="#222" stroke-width="0.78" />
<path d="M695.5 318V378M873.5 318V378" fill="none" stroke="#222" stroke-width="0.78" />
<path d="M714.6 348.6H854.4" fill="none" stroke="#222" stroke-width="0.78" /><path d="M714.6 348.6L720.1 347.3L720.1 349.9Z" fill="#222"/><path d="M854.4 348.6L848.9 349.9L848.9 347.3Z" fill="#222"/>
<path d="M695.5 372.6H873.5" fill="none" stroke="#222" stroke-width="0.78" /><path d="M695.5 372.6L701.0 371.3L701.0 373.9Z" fill="#222"/><path d="M873.5 372.6L868.0 373.9L868.0 371.3Z" fill="#222"/>
<text x="784.6" y="344.8" font-size="11.6" text-anchor="middle" >F</text>
<text x="785.7" y="368.6" font-size="11.6" text-anchor="middle" >N</text>
<path d="M758 98.4H960" fill="none" stroke="#222" stroke-width="0.78" />
<path d="M875 295.3H898M876 316.3H958" fill="none" stroke="#222" stroke-width="0.78" />
<path d="M913 214.9H910" fill="none" stroke="#222" stroke-width="0.78" />
<path d="M895.6 295.3V316.3" fill="none" stroke="#222" stroke-width="0.78" /><path d="M895.6 295.3L896.9 300.8L894.3 300.8Z" fill="#222"/><path d="M895.6 316.3L894.3 310.8L896.9 310.8Z" fill="#222"/>
<path d="M907 151.5V214.9" fill="none" stroke="#222" stroke-width="0.78" /><path d="M907.0 151.5L908.3 157.0L905.7 157.0Z" fill="#222"/><path d="M907.0 214.9L905.7 209.4L908.3 209.4Z" fill="#222"/>
<path d="M907 214.9V316.3" fill="none" stroke="#222" stroke-width="0.78" /><path d="M907.0 214.9L908.3 220.4L905.7 220.4Z" fill="#222"/><path d="M907.0 316.3L905.7 310.8L908.3 310.8Z" fill="#222"/>
<path d="M930.5 151.5V316.3" fill="none" stroke="#222" stroke-width="0.78" /><path d="M930.5 151.5L931.8 157.0L929.2 157.0Z" fill="#222"/><path d="M930.5 316.3L929.2 310.8L931.8 310.8Z" fill="#222"/>
<path d="M955 98.4V316.3" fill="none" stroke="#222" stroke-width="0.78" /><path d="M955.0 98.4L956.3 103.9L953.7 103.9Z" fill="#222"/><path d="M955.0 316.3L953.7 310.8L956.3 310.8Z" fill="#222"/>
<path d="M921 151.5H933" fill="none" stroke="#222" stroke-width="0.78" />
<text x="890.8" y="305.6" font-size="11.6" text-anchor="middle" transform="rotate(-90 890.8 305.6)" >G</text>
<text x="903.5" y="186.3" font-size="11.6" text-anchor="middle" transform="rotate(-90 903.5 186.3)" >CC</text>
<text x="903.5" y="263" font-size="11.6" text-anchor="middle" transform="rotate(-90 903.5 263)" >LA</text>
<text x="927" y="240.5" font-size="11.6" text-anchor="middle" transform="rotate(-90 927 240.5)" >HA</text>
<text x="951.5" y="215" font-size="11.6" text-anchor="middle" transform="rotate(-90 951.5 215)" >H1</text></g>
<g id="direction"><path d="M996.6 2.3H1095.6V202H996.6ZM996.6 102.3H1095.6" fill="none" stroke="#3a3a3a" stroke-width="1"/>
<g><path d="M1006 67.8L1011.7 64.2L1018.5 68.3V71.2L1012.6 74.6L1006 70.8Z" fill="#fff" stroke="#222" stroke-width="0.8" stroke-linejoin="round"/>
<path d="M1006 67.8L1012.6 71.6L1018.5 68.3M1012.6 71.6V74.6" fill="none" stroke="#222" stroke-width="0.7"/>
<path d="M1032.4 82.7L1060 66.5L1067.6 70.3V73.3L1040 88.4L1032.4 85.6Z" fill="#fff" stroke="#222" stroke-width="0.8" stroke-linejoin="round"/>
<path d="M1032.4 82.7L1040 85.4L1067.6 70.3M1040 85.4V88.4" fill="none" stroke="#222" stroke-width="0.7"/>
<path d="M1014.5 31V62.2L1040.9 81V44Z" fill="#fff" stroke="#222" stroke-width="0.8" stroke-linejoin="round"/>
<path d="M1040.9 44V81L1060.1 68V33Z" fill="#fff" stroke="#222" stroke-width="0.8" stroke-linejoin="round"/>
<path d="M1014.5 30.2Q1014.3 28.6 1016 27.6L1031.5 18Q1033.7 16.8 1036 18L1058.6 29.8Q1060.4 31 1060.1 33L1042.8 43.3Q1040.9 44.6 1038.8 43.4Z" fill="#fff" stroke="#222" stroke-width="0.8" stroke-linejoin="round"/>
<path d="M1040.9 44.4V81" fill="none" stroke="#222" stroke-width="1.2"/>
<path d="M1016.4 39Q1016.4 36.3 1018.6 37.6L1036.6 46.6Q1038.8 47.8 1038.8 50.3V70.6Q1038.8 73.3 1036.6 72L1018.4 62Q1016.4 60.8 1016.4 58.3Z" fill="none" stroke="#222" stroke-width="0.8"/>
<path d="M1017.9 41Q1017.9 39.1 1019.6 40L1035.6 48Q1037.3 49 1037.3 51V68.6Q1037.3 70.5 1035.6 69.6L1019.6 60.8Q1017.9 59.8 1017.9 58Z" fill="none" stroke="#222" stroke-width="0.6"/>
<ellipse cx="1026.9" cy="54.8" rx="6.3" ry="8.6" transform="rotate(-22 1026.9 54.8)" fill="none" stroke="#222" stroke-width="0.9"/>
<ellipse cx="1026.9" cy="54.8" rx="5.2" ry="7.2" transform="rotate(-22 1026.9 54.8)" fill="none" stroke="#222" stroke-width="0.6"/>
<ellipse cx="1026.9" cy="54.8" rx="3.6" ry="5.2" transform="rotate(-22 1026.9 54.8)" fill="none" stroke="#222" stroke-width="0.9"/>
<ellipse cx="1047.6" cy="46.3" rx="3.6" ry="6.2" transform="rotate(-18 1047.6 46.3)" fill="#fff" stroke="#222" stroke-width="0.8" stroke-linejoin="round"/>
<path d="M1048.6 41.6L1062.4 45.4L1060.2 54.4L1046.8 50.6Z" fill="#fff" stroke="none"/>
<path d="M1048.6 41.6L1062.4 45.4M1046.8 50.6L1060.2 54.4" fill="none" stroke="#222" stroke-width="0.8"/>
<ellipse cx="1061.3" cy="49.9" rx="2.9" ry="4.7" transform="rotate(-18 1061.3 49.9)" fill="#fff" stroke="#222" stroke-width="0.8" stroke-linejoin="round"/></g>
<g transform="translate(0.9 100.9)"><path d="M1012.2 22.6L1021 26.2L1021 31.8L1012.2 28.2Z" fill="#fff" stroke="#222" stroke-width="0.8" stroke-linejoin="round"/>
<ellipse cx="1012.2" cy="25.4" rx="1.9" ry="2.9" transform="rotate(-20 1012.2 25.4)" fill="#fff" stroke="#222" stroke-width="0.8" stroke-linejoin="round"/>
<path d="M1006 67.8L1011.7 64.2L1018.5 68.3V71.2L1012.6 74.6L1006 70.8Z" fill="#fff" stroke="#222" stroke-width="0.8" stroke-linejoin="round"/>
<path d="M1006 67.8L1012.6 71.6L1018.5 68.3M1012.6 71.6V74.6" fill="none" stroke="#222" stroke-width="0.7"/>
<path d="M1032.4 82.7L1060 66.5L1067.6 70.3V73.3L1040 88.4L1032.4 85.6Z" fill="#fff" stroke="#222" stroke-width="0.8" stroke-linejoin="round"/>
<path d="M1032.4 82.7L1040 85.4L1067.6 70.3M1040 85.4V88.4" fill="none" stroke="#222" stroke-width="0.7"/>
<path d="M1014.5 31V62.2L1040.9 81V44Z" fill="#fff" stroke="#222" stroke-width="0.8" stroke-linejoin="round"/>
<path d="M1040.9 44V81L1060.1 68V33Z" fill="#fff" stroke="#222" stroke-width="0.8" stroke-linejoin="round"/>
<path d="M1014.5 30.2Q1014.3 28.6 1016 27.6L1031.5 18Q1033.7 16.8 1036 18L1058.6 29.8Q1060.4 31 1060.1 33L1042.8 43.3Q1040.9 44.6 1038.8 43.4Z" fill="#fff" stroke="#222" stroke-width="0.8" stroke-linejoin="round"/>
<path d="M1040.9 44.4V81" fill="none" stroke="#222" stroke-width="1.2"/>
<path d="M1016.4 39Q1016.4 36.3 1018.6 37.6L1036.6 46.6Q1038.8 47.8 1038.8 50.3V70.6Q1038.8 73.3 1036.6 72L1018.4 62Q1016.4 60.8 1016.4 58.3Z" fill="none" stroke="#222" stroke-width="0.8"/>
<path d="M1017.9 41Q1017.9 39.1 1019.6 40L1035.6 48Q1037.3 49 1037.3 51V68.6Q1037.3 70.5 1035.6 69.6L1019.6 60.8Q1017.9 59.8 1017.9 58Z" fill="none" stroke="#222" stroke-width="0.6"/>
<ellipse cx="1026.9" cy="54.8" rx="6.3" ry="8.6" transform="rotate(-22 1026.9 54.8)" fill="none" stroke="#222" stroke-width="0.9"/>
<ellipse cx="1026.9" cy="54.8" rx="5.2" ry="7.2" transform="rotate(-22 1026.9 54.8)" fill="none" stroke="#222" stroke-width="0.6"/>
<ellipse cx="1026.9" cy="54.8" rx="3.6" ry="5.2" transform="rotate(-22 1026.9 54.8)" fill="none" stroke="#222" stroke-width="0.9"/>
<ellipse cx="1047.6" cy="46.3" rx="3.6" ry="6.2" transform="rotate(-18 1047.6 46.3)" fill="#fff" stroke="#222" stroke-width="0.8" stroke-linejoin="round"/>
<path d="M1048.6 41.6L1062.4 45.4L1060.2 54.4L1046.8 50.6Z" fill="#fff" stroke="none"/>
<path d="M1048.6 41.6L1062.4 45.4M1046.8 50.6L1060.2 54.4" fill="none" stroke="#222" stroke-width="0.8"/>
<ellipse cx="1061.3" cy="49.9" rx="2.9" ry="4.7" transform="rotate(-18 1061.3 49.9)" fill="#fff" stroke="#222" stroke-width="0.8" stroke-linejoin="round"/></g>
<text x="1074.6" y="16.6" font-size="9.3" text-anchor="middle" letter-spacing="0.6">孔雙出</text>
<text x="1077" y="126.6" font-size="9.3" text-anchor="middle" letter-spacing="0.6">孔雙出</text>
<text x="1085.5" y="55.2" font-size="14.5" text-anchor="middle" >R</text>
<text x="1083.2" y="160" font-size="14.5" text-anchor="middle" >W</text>
<text x="988" y="217" font-size="9.5" text-anchor="start" letter-spacing="1.1">軸向選擇</text>
<text x="1041" y="217.2" font-size="10" text-anchor="start" letter-spacing="0.75">Shaft Direction</text></g>
<rect x="7" y="409.7" width="1100.3" height="60.900000000000034" fill="#c9c9c9"/>
<path d="M7 409.7H1107.3M7 470.6H1107.3M7 490.0H1107.3M7 509.1H1107.3M7 528.2H1107.3M7 547.4H1107.3M7 566.5H1107.3M7 585.8H1107.3M7 605.0H1107.3M7 624.2H1107.3M7 643.2H1107.3M7 440.2H163M562.6 440.2H1066.5M7 409.7V643.2M59 440.2V643.2M110.7 440.2V643.2M163 409.7V643.2M203 409.7V643.2M239 409.7V643.2M274.5 409.7V643.2M311 409.7V643.2M347 409.7V643.2M382.7 409.7V643.2M418.5 409.7V643.2M454.5 409.7V643.2M490.5 409.7V643.2M526.6 409.7V643.2M562.6 409.7V643.2M598.8 440.2V643.2M634.8 440.2V643.2M670.8 440.2V643.2M706.6 440.2V643.2M742.5 440.2V643.2M778.5 409.7V643.2M814.3 440.2V643.2M850.6 440.2V643.2M886.6 440.2V643.2M958.3 409.7V643.2M994.3 440.2V643.2M1030.5 440.2V643.2M1066.5 409.7V643.2M1107.3 409.7V643.2M7 440.2L163 409.7M110.7 490.0L163 470.6" fill="none" stroke="#2e2e2e" stroke-width="1"/>
</svg>
<div class="t" style="left:12px;top:7.5px;font-size:20.5px;font-weight:bold;letter-spacing:1.1px;line-height:24px;color:#1c1c1c;">MODEL<span style="display:inline-block;width:19px;text-indent:-0.5px;letter-spacing:0;">:</span><span style="letter-spacing:0.75px;">TJ-BKAO</span></div>
<div class="t" style="left:87.5px;top:321px;font-size:20px;letter-spacing:1.55px;line-height:24px;"><span style="display:inline-block;width:23px;margin-left:-4.7px;font-size:26px;line-height:24px;letter-spacing:0;vertical-align:-1.5px;">▲</span>50#–175#</div>
<div class="t" style="left:13px;top:380px;font-size:18px;letter-spacing:1.75px;line-height:24px;"><span style="font-size:18.5px;letter-spacing:0.6px;">尺寸表</span><span style="display:inline-block;width:14px;"></span>Dimension</div>
<div class="t" style="left:1045.3px;top:385.5px;font-size:10.5px;line-height:14px;"><span style="font-size:11px;letter-spacing:1px;">單位</span><span style="display:inline-block;width:13.5px;text-indent:2px;">:</span><span style="display:inline-block;letter-spacing:0.9px;transform:scaleX(1.18);transform-origin:0 50%;">m/m</span></div>
<div class="c h" style="left:163.0px;top:409.7px;width:40.0px;height:60.9px;line-height:60.9px;">A</div>
<div class="c h" style="left:203.0px;top:409.7px;width:36.0px;height:60.9px;line-height:60.9px;">AB</div>
<div class="c h" style="left:239.0px;top:409.7px;width:35.5px;height:60.9px;line-height:60.9px;">B</div>
<div class="c h" style="left:274.5px;top:409.7px;width:36.5px;height:60.9px;line-height:60.9px;">BB</div>
<div class="c h" style="left:311.0px;top:409.7px;width:36.0px;height:60.9px;line-height:60.9px;">CC</div>
<div class="c h" style="left:347.0px;top:409.7px;width:35.7px;height:60.9px;line-height:60.9px;">H1</div>
<div class="c h" style="left:382.7px;top:409.7px;width:35.8px;height:60.9px;line-height:60.9px;">H2</div>
<div class="c h" style="left:418.5px;top:409.7px;width:36.0px;height:60.9px;line-height:60.9px;">HA</div>
<div class="c h" style="left:454.5px;top:409.7px;width:36.0px;height:60.9px;line-height:60.9px;">HB</div>
<div class="c h" style="left:490.5px;top:409.7px;width:36.1px;height:60.9px;line-height:60.9px;">LA</div>
<div class="c h" style="left:526.6px;top:409.7px;width:36.0px;height:60.9px;line-height:60.9px;">LB</div>
<div class="c h" style="left:562.6px;top:441.7px;width:36.2px;height:30.4px;line-height:30.4px;">E</div>
<div class="c h" style="left:598.8px;top:441.7px;width:36.0px;height:30.4px;line-height:30.4px;">F</div>
<div class="c h" style="left:634.8px;top:441.7px;width:36.0px;height:30.4px;line-height:30.4px;">M</div>
<div class="c h" style="left:670.8px;top:441.7px;width:35.8px;height:30.4px;line-height:30.4px;">N</div>
<div class="c h" style="left:706.6px;top:441.7px;width:35.9px;height:30.4px;line-height:30.4px;">G</div>
<div class="c h" style="left:742.5px;top:441.7px;width:36.0px;height:30.4px;line-height:30.4px;">Z</div>
<div class="c h" style="left:778.5px;top:440.2px;width:35.8px;height:30.4px;line-height:30.4px;">HS</div>
<div class="c h" style="left:814.3px;top:440.2px;width:36.3px;height:30.4px;line-height:30.4px;">U</div>
<div class="c h" style="left:850.6px;top:440.2px;width:36.0px;height:30.4px;line-height:30.4px;">d</div>
<div class="c h" style="left:886.6px;top:442.2px;width:71.7px;height:30.4px;line-height:30.4px;">TxVxHK</div>
<div class="c h" style="left:958.3px;top:440.2px;width:36.0px;height:30.4px;line-height:30.4px;">W</div>
<div class="c h" style="left:994.3px;top:440.2px;width:36.2px;height:30.4px;line-height:30.4px;">Y</div>
<div class="c h" style="left:1030.5px;top:440.2px;width:36.0px;height:30.4px;line-height:30.4px;">S</div>
<div class="c zh" style="left:562.6px;top:410.7px;width:215.9px;height:16.0px;line-height:16.0px;">脚座</div>
<div class="c en" style="left:562.6px;top:428.3px;width:215.9px;height:11.4px;line-height:11.4px;">FOOT STOCK</div>
<div class="c zh" style="left:778.5px;top:410.7px;width:179.8px;height:16.0px;line-height:16.0px;">入力軸</div>
<div class="c en" style="left:778.5px;top:428.3px;width:179.8px;height:11.4px;line-height:11.4px;">INPUT SHAFT</div>
<div class="c zh" style="left:958.3px;top:410.7px;width:108.2px;height:16.0px;line-height:16.0px;">出力孔</div>
<div class="c en" style="left:958.3px;top:428.3px;width:108.2px;height:11.4px;line-height:11.4px;">OUTPUT BORE</div>
<div class="c zh b" style="left:1066.5px;top:415.7px;width:40.8px;height:18.0px;line-height:18.0px;">重量</div>
<div class="c en" style="left:1066.5px;top:436.0px;width:40.8px;height:11.0px;line-height:11.0px;letter-spacing:0.45px;font-size:9.3px;">Weight</div>
<div class="c h" style="left:1066.5px;top:447.7px;width:40.8px;height:20.0px;line-height:20.0px;">(KG)</div>
<div class="t zh" style="left:10px;top:410.2px;">减速比</div>
<div class="t en" style="left:14px;top:424.7px;">RATIO</div>
<div class="t zh" style="left:134px;top:414.2px;">馬力</div>
<div class="t en" style="left:140px;top:428.7px;">HP</div>
<div class="c zh" style="left:10.0px;top:442.7px;width:52.0px;height:17.0px;line-height:17.0px;font-size:14.2px;letter-spacing:1.2px;">型號</div>
<div class="c en" style="left:9.5px;top:457.7px;width:52.0px;height:11.5px;line-height:11.5px;letter-spacing:0.55px;">MODEL</div>
<div class="c sm" style="left:59.0px;top:440.2px;width:51.7px;height:30.4px;line-height:30.4px;">1/10~1/30</div>
<div class="c sm" style="left:110.7px;top:440.2px;width:52.3px;height:30.4px;line-height:30.4px;">1/40~1/60</div>
<div class="c d" style="left:7.0px;top:470.6px;width:52.0px;height:19.4px;line-height:19.4px;">50</div>
<div class="c d" style="left:59.0px;top:470.6px;width:51.7px;height:19.4px;line-height:19.4px;">1 /4</div>
<div class="c d" style="left:163.0px;top:470.6px;width:40.0px;height:19.4px;line-height:19.4px;">179</div>
<div class="c d" style="left:203.0px;top:470.6px;width:36.0px;height:19.4px;line-height:19.4px;">105</div>
<div class="c d" style="left:239.0px;top:470.6px;width:35.5px;height:19.4px;line-height:19.4px;">100</div>
<div class="c d" style="left:274.5px;top:470.6px;width:36.5px;height:19.4px;line-height:19.4px;">50</div>
<div class="c d" style="left:311.0px;top:470.6px;width:36.0px;height:19.4px;line-height:19.4px;">50</div>
<div class="c d" style="left:347.0px;top:470.6px;width:35.7px;height:19.4px;line-height:19.4px;">176</div>
<div class="c d" style="left:382.7px;top:470.6px;width:35.8px;height:19.4px;line-height:19.4px;">179</div>
<div class="c d" style="left:418.5px;top:470.6px;width:36.0px;height:19.4px;line-height:19.4px;">130</div>
<div class="c d" style="left:454.5px;top:470.6px;width:36.0px;height:19.4px;line-height:19.4px;">50</div>
<div class="c d" style="left:490.5px;top:470.6px;width:36.1px;height:19.4px;line-height:19.4px;">80</div>
<div class="c d" style="left:526.6px;top:470.6px;width:36.0px;height:19.4px;line-height:19.4px;">100</div>
<div class="c d" style="left:562.6px;top:470.6px;width:36.2px;height:19.4px;line-height:19.4px;">95</div>
<div class="c d" style="left:598.8px;top:470.6px;width:36.0px;height:19.4px;line-height:19.4px;">110</div>
<div class="c d" style="left:634.8px;top:470.6px;width:36.0px;height:19.4px;line-height:19.4px;">120</div>
<div class="c d" style="left:670.8px;top:470.6px;width:35.8px;height:19.4px;line-height:19.4px;">140</div>
<div class="c d" style="left:706.6px;top:470.6px;width:35.9px;height:19.4px;line-height:19.4px;">15</div>
<div class="c d" style="left:742.5px;top:470.6px;width:36.0px;height:19.4px;line-height:19.4px;">11</div>
<div class="c d" style="left:778.5px;top:470.6px;width:35.8px;height:19.4px;line-height:19.4px;">30</div>
<div class="c d" style="left:814.3px;top:470.6px;width:36.3px;height:19.4px;line-height:19.4px;">12</div>
<div class="c d" style="left:850.6px;top:470.6px;width:36.0px;height:19.4px;line-height:19.4px;">13.5</div>
<div class="c d" style="left:886.6px;top:470.6px;width:71.7px;height:19.4px;line-height:19.4px;">4<span class="x">×</span>4<span class="x">×</span>25</div>
<div class="c d" style="left:958.3px;top:470.6px;width:36.0px;height:19.4px;line-height:19.4px;">6</div>
<div class="c d" style="left:994.3px;top:470.6px;width:36.2px;height:19.4px;line-height:19.4px;">22.8</div>
<div class="c d" style="left:1030.5px;top:470.6px;width:36.0px;height:19.4px;line-height:19.4px;">20</div>
<div class="c d" style="left:1066.5px;top:470.6px;width:40.8px;height:19.4px;line-height:19.4px;">7.6</div>
<div class="c d" style="left:7.0px;top:490.0px;width:52.0px;height:19.1px;line-height:19.1px;">60</div>
<div class="c d" style="left:59.0px;top:490.0px;width:51.7px;height:19.1px;line-height:19.1px;">1 /2</div>
<div class="c d" style="left:110.7px;top:490.0px;width:52.3px;height:19.1px;line-height:19.1px;">1 /4</div>
<div class="c d" style="left:163.0px;top:490.0px;width:40.0px;height:19.1px;line-height:19.1px;">198</div>
<div class="c d" style="left:203.0px;top:490.0px;width:36.0px;height:19.1px;line-height:19.1px;">120</div>
<div class="c d" style="left:239.0px;top:490.0px;width:35.5px;height:19.1px;line-height:19.1px;">110</div>
<div class="c d" style="left:274.5px;top:490.0px;width:36.5px;height:19.1px;line-height:19.1px;">55</div>
<div class="c d" style="left:311.0px;top:490.0px;width:36.0px;height:19.1px;line-height:19.1px;">60</div>
<div class="c d" style="left:347.0px;top:490.0px;width:35.7px;height:19.1px;line-height:19.1px;">200</div>
<div class="c d" style="left:382.7px;top:490.0px;width:35.8px;height:19.1px;line-height:19.1px;">200</div>
<div class="c d" style="left:418.5px;top:490.0px;width:36.0px;height:19.1px;line-height:19.1px;">150</div>
<div class="c d" style="left:454.5px;top:490.0px;width:36.0px;height:19.1px;line-height:19.1px;">60</div>
<div class="c d" style="left:490.5px;top:490.0px;width:36.1px;height:19.1px;line-height:19.1px;">90</div>
<div class="c d" style="left:526.6px;top:490.0px;width:36.0px;height:19.1px;line-height:19.1px;">120</div>
<div class="c d" style="left:562.6px;top:490.0px;width:36.2px;height:19.1px;line-height:19.1px;">105</div>
<div class="c d" style="left:598.8px;top:490.0px;width:36.0px;height:19.1px;line-height:19.1px;">120</div>
<div class="c d" style="left:634.8px;top:490.0px;width:36.0px;height:19.1px;line-height:19.1px;">130</div>
<div class="c d" style="left:670.8px;top:490.0px;width:35.8px;height:19.1px;line-height:19.1px;">150</div>
<div class="c d" style="left:706.6px;top:490.0px;width:35.9px;height:19.1px;line-height:19.1px;">20</div>
<div class="c d" style="left:742.5px;top:490.0px;width:36.0px;height:19.1px;line-height:19.1px;">11</div>
<div class="c d" style="left:778.5px;top:490.0px;width:35.8px;height:19.1px;line-height:19.1px;">40</div>
<div class="c d" style="left:814.3px;top:490.0px;width:36.3px;height:19.1px;line-height:19.1px;">15</div>
<div class="c d" style="left:850.6px;top:490.0px;width:36.0px;height:19.1px;line-height:19.1px;">17</div>
<div class="c d" style="left:886.6px;top:490.0px;width:71.7px;height:19.1px;line-height:19.1px;">5<span class="x">×</span>5<span class="x">×</span>35</div>
<div class="c d" style="left:958.3px;top:490.0px;width:36.0px;height:19.1px;line-height:19.1px;">8</div>
<div class="c d" style="left:994.3px;top:490.0px;width:36.2px;height:19.1px;line-height:19.1px;">28.3</div>
<div class="c d" style="left:1030.5px;top:490.0px;width:36.0px;height:19.1px;line-height:19.1px;">25</div>
<div class="c d" style="left:1066.5px;top:490.0px;width:40.8px;height:19.1px;line-height:19.1px;">10.4</div>
<div class="c d" style="left:7.0px;top:509.1px;width:52.0px;height:19.1px;line-height:19.1px;">70</div>
<div class="c d" style="left:59.0px;top:509.1px;width:51.7px;height:19.1px;line-height:19.1px;">1</div>
<div class="c d" style="left:110.7px;top:509.1px;width:52.3px;height:19.1px;line-height:19.1px;">1 /2</div>
<div class="c d" style="left:163.0px;top:509.1px;width:40.0px;height:19.1px;line-height:19.1px;">235</div>
<div class="c d" style="left:203.0px;top:509.1px;width:36.0px;height:19.1px;line-height:19.1px;">140</div>
<div class="c d" style="left:239.0px;top:509.1px;width:35.5px;height:19.1px;line-height:19.1px;">130</div>
<div class="c d" style="left:274.5px;top:509.1px;width:36.5px;height:19.1px;line-height:19.1px;">65</div>
<div class="c d" style="left:311.0px;top:509.1px;width:36.0px;height:19.1px;line-height:19.1px;">70</div>
<div class="c d" style="left:347.0px;top:509.1px;width:35.7px;height:19.1px;line-height:19.1px;">235</div>
<div class="c d" style="left:382.7px;top:509.1px;width:35.8px;height:19.1px;line-height:19.1px;">240</div>
<div class="c d" style="left:418.5px;top:509.1px;width:36.0px;height:19.1px;line-height:19.1px;">175</div>
<div class="c d" style="left:454.5px;top:509.1px;width:36.0px;height:19.1px;line-height:19.1px;">70</div>
<div class="c d" style="left:490.5px;top:509.1px;width:36.1px;height:19.1px;line-height:19.1px;">105</div>
<div class="c d" style="left:526.6px;top:509.1px;width:36.0px;height:19.1px;line-height:19.1px;">140</div>
<div class="c d" style="left:562.6px;top:509.1px;width:36.2px;height:19.1px;line-height:19.1px;">115</div>
<div class="c d" style="left:598.8px;top:509.1px;width:36.0px;height:19.1px;line-height:19.1px;">150</div>
<div class="c d" style="left:634.8px;top:509.1px;width:36.0px;height:19.1px;line-height:19.1px;">150</div>
<div class="c d" style="left:670.8px;top:509.1px;width:35.8px;height:19.1px;line-height:19.1px;">190</div>
<div class="c d" style="left:706.6px;top:509.1px;width:35.9px;height:19.1px;line-height:19.1px;">20</div>
<div class="c d" style="left:742.5px;top:509.1px;width:36.0px;height:19.1px;line-height:19.1px;">15</div>
<div class="c d" style="left:778.5px;top:509.1px;width:35.8px;height:19.1px;line-height:19.1px;">40</div>
<div class="c d" style="left:814.3px;top:509.1px;width:36.3px;height:19.1px;line-height:19.1px;">18</div>
<div class="c d" style="left:850.6px;top:509.1px;width:36.0px;height:19.1px;line-height:19.1px;">20</div>
<div class="c d" style="left:886.6px;top:509.1px;width:71.7px;height:19.1px;line-height:19.1px;">5<span class="x">×</span>5<span class="x">×</span>35</div>
<div class="c d" style="left:958.3px;top:509.1px;width:36.0px;height:19.1px;line-height:19.1px;">8</div>
<div class="c d" style="left:994.3px;top:509.1px;width:36.2px;height:19.1px;line-height:19.1px;">33.3</div>
<div class="c d" style="left:1030.5px;top:509.1px;width:36.0px;height:19.1px;line-height:19.1px;">30</div>
<div class="c d" style="left:1066.5px;top:509.1px;width:40.8px;height:19.1px;line-height:19.1px;">16.6</div>
<div class="c d" style="left:7.0px;top:528.2px;width:52.0px;height:19.2px;line-height:19.2px;">80</div>
<div class="c d" style="left:59.0px;top:528.2px;width:51.7px;height:19.2px;line-height:19.2px;">2</div>
<div class="c d" style="left:110.7px;top:528.2px;width:52.3px;height:19.2px;line-height:19.2px;">1</div>
<div class="c d" style="left:163.0px;top:528.2px;width:40.0px;height:19.2px;line-height:19.2px;">268</div>
<div class="c d" style="left:203.0px;top:528.2px;width:36.0px;height:19.2px;line-height:19.2px;">161</div>
<div class="c d" style="left:239.0px;top:528.2px;width:35.5px;height:19.2px;line-height:19.2px;">140</div>
<div class="c d" style="left:274.5px;top:528.2px;width:36.5px;height:19.2px;line-height:19.2px;">70</div>
<div class="c d" style="left:311.0px;top:528.2px;width:36.0px;height:19.2px;line-height:19.2px;">80</div>
<div class="c d" style="left:347.0px;top:528.2px;width:35.7px;height:19.2px;line-height:19.2px;">260</div>
<div class="c d" style="left:382.7px;top:528.2px;width:35.8px;height:19.2px;line-height:19.2px;">266</div>
<div class="c d" style="left:418.5px;top:528.2px;width:36.0px;height:19.2px;line-height:19.2px;">200</div>
<div class="c d" style="left:454.5px;top:528.2px;width:36.0px;height:19.2px;line-height:19.2px;">80</div>
<div class="c d" style="left:490.5px;top:528.2px;width:36.1px;height:19.2px;line-height:19.2px;">120</div>
<div class="c d" style="left:526.6px;top:528.2px;width:36.0px;height:19.2px;line-height:19.2px;">160</div>
<div class="c d" style="left:562.6px;top:528.2px;width:36.2px;height:19.2px;line-height:19.2px;">135</div>
<div class="c d" style="left:598.8px;top:528.2px;width:36.0px;height:19.2px;line-height:19.2px;">180</div>
<div class="c d" style="left:634.8px;top:528.2px;width:36.0px;height:19.2px;line-height:19.2px;">170</div>
<div class="c d" style="left:670.8px;top:528.2px;width:35.8px;height:19.2px;line-height:19.2px;">217</div>
<div class="c d" style="left:706.6px;top:528.2px;width:35.9px;height:19.2px;line-height:19.2px;">20</div>
<div class="c d" style="left:742.5px;top:528.2px;width:36.0px;height:19.2px;line-height:19.2px;">15</div>
<div class="c d" style="left:778.5px;top:528.2px;width:35.8px;height:19.2px;line-height:19.2px;">50</div>
<div class="c d" style="left:814.3px;top:528.2px;width:36.3px;height:19.2px;line-height:19.2px;">22</div>
<div class="c d" style="left:850.6px;top:528.2px;width:36.0px;height:19.2px;line-height:19.2px;">25</div>
<div class="c d" style="left:886.6px;top:528.2px;width:71.7px;height:19.2px;line-height:19.2px;">7<span class="x">×</span>7<span class="x">×</span>45</div>
<div class="c d" style="left:958.3px;top:528.2px;width:36.0px;height:19.2px;line-height:19.2px;">10</div>
<div class="c d" style="left:994.3px;top:528.2px;width:36.2px;height:19.2px;line-height:19.2px;">38.3</div>
<div class="c d" style="left:1030.5px;top:528.2px;width:36.0px;height:19.2px;line-height:19.2px;">35</div>
<div class="c d" style="left:1066.5px;top:528.2px;width:40.8px;height:19.2px;line-height:19.2px;">22</div>
<div class="c d" style="left:7.0px;top:547.4px;width:52.0px;height:19.1px;line-height:19.1px;">100</div>
<div class="c d" style="left:59.0px;top:547.4px;width:51.7px;height:19.1px;line-height:19.1px;">3</div>
<div class="c d" style="left:110.7px;top:547.4px;width:52.3px;height:19.1px;line-height:19.1px;">2</div>
<div class="c d" style="left:163.0px;top:547.4px;width:40.0px;height:19.1px;line-height:19.1px;">322</div>
<div class="c d" style="left:203.0px;top:547.4px;width:36.0px;height:19.1px;line-height:19.1px;">190</div>
<div class="c d" style="left:239.0px;top:547.4px;width:35.5px;height:19.1px;line-height:19.1px;">180</div>
<div class="c d" style="left:274.5px;top:547.4px;width:36.5px;height:19.1px;line-height:19.1px;">90</div>
<div class="c d" style="left:311.0px;top:547.4px;width:36.0px;height:19.1px;line-height:19.1px;">100</div>
<div class="c d" style="left:347.0px;top:547.4px;width:35.7px;height:19.1px;line-height:19.1px;">324</div>
<div class="c d" style="left:382.7px;top:547.4px;width:35.8px;height:19.1px;line-height:19.1px;">337</div>
<div class="c d" style="left:418.5px;top:547.4px;width:36.0px;height:19.1px;line-height:19.1px;">250</div>
<div class="c d" style="left:454.5px;top:547.4px;width:36.0px;height:19.1px;line-height:19.1px;">100</div>
<div class="c d" style="left:490.5px;top:547.4px;width:36.1px;height:19.1px;line-height:19.1px;">150</div>
<div class="c d" style="left:526.6px;top:547.4px;width:36.0px;height:19.1px;line-height:19.1px;">200</div>
<div class="c d" style="left:562.6px;top:547.4px;width:36.2px;height:19.1px;line-height:19.1px;">155</div>
<div class="c d" style="left:598.8px;top:547.4px;width:36.0px;height:19.1px;line-height:19.1px;">220</div>
<div class="c d" style="left:634.8px;top:547.4px;width:36.0px;height:19.1px;line-height:19.1px;">195</div>
<div class="c d" style="left:670.8px;top:547.4px;width:35.8px;height:19.1px;line-height:19.1px;">270</div>
<div class="c d" style="left:706.6px;top:547.4px;width:35.9px;height:19.1px;line-height:19.1px;">25</div>
<div class="c d" style="left:742.5px;top:547.4px;width:36.0px;height:19.1px;line-height:19.1px;">15</div>
<div class="c d" style="left:778.5px;top:547.4px;width:35.8px;height:19.1px;line-height:19.1px;">50</div>
<div class="c d" style="left:814.3px;top:547.4px;width:36.3px;height:19.1px;line-height:19.1px;">25</div>
<div class="c d" style="left:850.6px;top:547.4px;width:36.0px;height:19.1px;line-height:19.1px;">28</div>
<div class="c d" style="left:886.6px;top:547.4px;width:71.7px;height:19.1px;line-height:19.1px;">7<span class="x">×</span>7<span class="x">×</span>45</div>
<div class="c d" style="left:958.3px;top:547.4px;width:36.0px;height:19.1px;line-height:19.1px;">10</div>
<div class="c d" style="left:994.3px;top:547.4px;width:36.2px;height:19.1px;line-height:19.1px;">43.3</div>
<div class="c d" style="left:1030.5px;top:547.4px;width:36.0px;height:19.1px;line-height:19.1px;">40</div>
<div class="c d" style="left:1066.5px;top:547.4px;width:40.8px;height:19.1px;line-height:19.1px;">37.8</div>
<div class="c d" style="left:7.0px;top:566.5px;width:52.0px;height:19.3px;line-height:19.3px;">120</div>
<div class="c d" style="left:59.0px;top:566.5px;width:51.7px;height:19.3px;line-height:19.3px;">5</div>
<div class="c d" style="left:110.7px;top:566.5px;width:52.3px;height:19.3px;line-height:19.3px;">3</div>
<div class="c d" style="left:163.0px;top:566.5px;width:40.0px;height:19.3px;line-height:19.3px;">390</div>
<div class="c d" style="left:203.0px;top:566.5px;width:36.0px;height:19.3px;line-height:19.3px;">231</div>
<div class="c d" style="left:239.0px;top:566.5px;width:35.5px;height:19.3px;line-height:19.3px;">200</div>
<div class="c d" style="left:274.5px;top:566.5px;width:36.5px;height:19.3px;line-height:19.3px;">100</div>
<div class="c d" style="left:311.0px;top:566.5px;width:36.0px;height:19.3px;line-height:19.3px;">120</div>
<div class="c d" style="left:347.0px;top:566.5px;width:35.7px;height:19.3px;line-height:19.3px;">385</div>
<div class="c d" style="left:382.7px;top:566.5px;width:35.8px;height:19.3px;line-height:19.3px;">398</div>
<div class="c d" style="left:418.5px;top:566.5px;width:36.0px;height:19.3px;line-height:19.3px;">300</div>
<div class="c d" style="left:454.5px;top:566.5px;width:36.0px;height:19.3px;line-height:19.3px;">120</div>
<div class="c d" style="left:490.5px;top:566.5px;width:36.1px;height:19.3px;line-height:19.3px;">180</div>
<div class="c d" style="left:526.6px;top:566.5px;width:36.0px;height:19.3px;line-height:19.3px;">240</div>
<div class="c d" style="left:562.6px;top:566.5px;width:36.2px;height:19.3px;line-height:19.3px;">180</div>
<div class="c d" style="left:598.8px;top:566.5px;width:36.0px;height:19.3px;line-height:19.3px;">260</div>
<div class="c d" style="left:634.8px;top:566.5px;width:36.0px;height:19.3px;line-height:19.3px;">230</div>
<div class="c d" style="left:670.8px;top:566.5px;width:35.8px;height:19.3px;line-height:19.3px;">320</div>
<div class="c d" style="left:706.6px;top:566.5px;width:35.9px;height:19.3px;line-height:19.3px;">30</div>
<div class="c d" style="left:742.5px;top:566.5px;width:36.0px;height:19.3px;line-height:19.3px;">18</div>
<div class="c d" style="left:778.5px;top:566.5px;width:35.8px;height:19.3px;line-height:19.3px;">65</div>
<div class="c d" style="left:814.3px;top:566.5px;width:36.3px;height:19.3px;line-height:19.3px;">30</div>
<div class="c d" style="left:850.6px;top:566.5px;width:36.0px;height:19.3px;line-height:19.3px;">33</div>
<div class="c d" style="left:886.6px;top:566.5px;width:71.7px;height:19.3px;line-height:19.3px;">7<span class="x">×</span>7<span class="x">×</span>60</div>
<div class="c d" style="left:958.3px;top:566.5px;width:36.0px;height:19.3px;line-height:19.3px;">12</div>
<div class="c d" style="left:994.3px;top:566.5px;width:36.2px;height:19.3px;line-height:19.3px;">48.3</div>
<div class="c d" style="left:1030.5px;top:566.5px;width:36.0px;height:19.3px;line-height:19.3px;">45</div>
<div class="c d" style="left:1066.5px;top:566.5px;width:40.8px;height:19.3px;line-height:19.3px;">65.2</div>
<div class="c d" style="left:7.0px;top:585.8px;width:52.0px;height:19.2px;line-height:19.2px;">135</div>
<div class="c d" style="left:59.0px;top:585.8px;width:51.7px;height:19.2px;line-height:19.2px;">71/2</div>
<div class="c d" style="left:110.7px;top:585.8px;width:52.3px;height:19.2px;line-height:19.2px;">5</div>
<div class="c d" style="left:163.0px;top:585.8px;width:40.0px;height:19.2px;line-height:19.2px;">438</div>
<div class="c d" style="left:203.0px;top:585.8px;width:36.0px;height:19.2px;line-height:19.2px;">258</div>
<div class="c d" style="left:239.0px;top:585.8px;width:35.5px;height:19.2px;line-height:19.2px;">220</div>
<div class="c d" style="left:274.5px;top:585.8px;width:36.5px;height:19.2px;line-height:19.2px;">110</div>
<div class="c d" style="left:311.0px;top:585.8px;width:36.0px;height:19.2px;line-height:19.2px;">135</div>
<div class="c d" style="left:347.0px;top:585.8px;width:35.7px;height:19.2px;line-height:19.2px;">445</div>
<div class="c d" style="left:382.7px;top:585.8px;width:35.8px;height:19.2px;line-height:19.2px;">440</div>
<div class="c d" style="left:418.5px;top:585.8px;width:36.0px;height:19.2px;line-height:19.2px;">350</div>
<div class="c d" style="left:454.5px;top:585.8px;width:36.0px;height:19.2px;line-height:19.2px;">135</div>
<div class="c d" style="left:490.5px;top:585.8px;width:36.1px;height:19.2px;line-height:19.2px;">215</div>
<div class="c d" style="left:526.6px;top:585.8px;width:36.0px;height:19.2px;line-height:19.2px;">270</div>
<div class="c d" style="left:562.6px;top:585.8px;width:36.2px;height:19.2px;line-height:19.2px;">200</div>
<div class="c d" style="left:598.8px;top:585.8px;width:36.0px;height:19.2px;line-height:19.2px;">290</div>
<div class="c d" style="left:634.8px;top:585.8px;width:36.0px;height:19.2px;line-height:19.2px;">250</div>
<div class="c d" style="left:670.8px;top:585.8px;width:35.8px;height:19.2px;line-height:19.2px;">350</div>
<div class="c d" style="left:706.6px;top:585.8px;width:35.9px;height:19.2px;line-height:19.2px;">32</div>
<div class="c d" style="left:742.5px;top:585.8px;width:36.0px;height:19.2px;line-height:19.2px;">18</div>
<div class="c d" style="left:778.5px;top:585.8px;width:35.8px;height:19.2px;line-height:19.2px;">75</div>
<div class="c d" style="left:814.3px;top:585.8px;width:36.3px;height:19.2px;line-height:19.2px;">35</div>
<div class="c d" style="left:850.6px;top:585.8px;width:36.0px;height:19.2px;line-height:19.2px;">38</div>
<div class="c d" style="left:886.6px;top:585.8px;width:71.7px;height:19.2px;line-height:19.2px;">10<span class="x">×</span>8<span class="x">×</span>70</div>
<div class="c d" style="left:958.3px;top:585.8px;width:36.0px;height:19.2px;line-height:19.2px;">15</div>
<div class="c d" style="left:994.3px;top:585.8px;width:36.2px;height:19.2px;line-height:19.2px;">59.3</div>
<div class="c d" style="left:1030.5px;top:585.8px;width:36.0px;height:19.2px;line-height:19.2px;">55</div>
<div class="c d" style="left:1066.5px;top:585.8px;width:40.8px;height:19.2px;line-height:19.2px;">78</div>
<div class="c d" style="left:7.0px;top:605.0px;width:52.0px;height:19.2px;line-height:19.2px;">155</div>
<div class="c d" style="left:59.0px;top:605.0px;width:51.7px;height:19.2px;line-height:19.2px;">10</div>
<div class="c d" style="left:110.7px;top:605.0px;width:52.3px;height:19.2px;line-height:19.2px;">71/2</div>
<div class="c d" style="left:163.0px;top:605.0px;width:40.0px;height:19.2px;line-height:19.2px;">491</div>
<div class="c d" style="left:203.0px;top:605.0px;width:36.0px;height:19.2px;line-height:19.2px;">292</div>
<div class="c d" style="left:239.0px;top:605.0px;width:35.5px;height:19.2px;line-height:19.2px;">247</div>
<div class="c d n" style="left:274.5px;top:605.0px;width:36.5px;height:19.2px;line-height:19.2px;">123.5</div>
<div class="c d" style="left:311.0px;top:605.0px;width:36.0px;height:19.2px;line-height:19.2px;">155</div>
<div class="c d" style="left:347.0px;top:605.0px;width:35.7px;height:19.2px;line-height:19.2px;">485</div>
<div class="c d" style="left:382.7px;top:605.0px;width:35.8px;height:19.2px;line-height:19.2px;">482</div>
<div class="c d" style="left:418.5px;top:605.0px;width:36.0px;height:19.2px;line-height:19.2px;">390</div>
<div class="c d" style="left:454.5px;top:605.0px;width:36.0px;height:19.2px;line-height:19.2px;">135</div>
<div class="c d" style="left:490.5px;top:605.0px;width:36.1px;height:19.2px;line-height:19.2px;">235</div>
<div class="c d" style="left:526.6px;top:605.0px;width:36.0px;height:19.2px;line-height:19.2px;">290</div>
<div class="c d" style="left:562.6px;top:605.0px;width:36.2px;height:19.2px;line-height:19.2px;">220</div>
<div class="c d" style="left:598.8px;top:605.0px;width:36.0px;height:19.2px;line-height:19.2px;">320</div>
<div class="c d" style="left:634.8px;top:605.0px;width:36.0px;height:19.2px;line-height:19.2px;">280</div>
<div class="c d" style="left:670.8px;top:605.0px;width:35.8px;height:19.2px;line-height:19.2px;">380</div>
<div class="c d" style="left:706.6px;top:605.0px;width:35.9px;height:19.2px;line-height:19.2px;">38</div>
<div class="c d" style="left:742.5px;top:605.0px;width:36.0px;height:19.2px;line-height:19.2px;">20</div>
<div class="c d" style="left:778.5px;top:605.0px;width:35.8px;height:19.2px;line-height:19.2px;">85</div>
<div class="c d" style="left:814.3px;top:605.0px;width:36.3px;height:19.2px;line-height:19.2px;">40</div>
<div class="c d" style="left:850.6px;top:605.0px;width:36.0px;height:19.2px;line-height:19.2px;">43</div>
<div class="c d" style="left:886.6px;top:605.0px;width:71.7px;height:19.2px;line-height:19.2px;">10<span class="x">×</span>8<span class="x">×</span>80</div>
<div class="c d" style="left:958.3px;top:605.0px;width:36.0px;height:19.2px;line-height:19.2px;">15</div>
<div class="c d" style="left:994.3px;top:605.0px;width:36.2px;height:19.2px;line-height:19.2px;">69.3</div>
<div class="c d" style="left:1030.5px;top:605.0px;width:36.0px;height:19.2px;line-height:19.2px;">65</div>
<div class="c d" style="left:1066.5px;top:605.0px;width:40.8px;height:19.2px;line-height:19.2px;">112.2</div>
<div class="c d" style="left:7.0px;top:624.2px;width:52.0px;height:19.0px;line-height:19.0px;">175</div>
<div class="c d" style="left:59.0px;top:624.2px;width:51.7px;height:19.0px;line-height:19.0px;">15</div>
<div class="c d" style="left:110.7px;top:624.2px;width:52.3px;height:19.0px;line-height:19.0px;">10</div>
<div class="c d" style="left:163.0px;top:624.2px;width:40.0px;height:19.0px;line-height:19.0px;">555</div>
<div class="c d" style="left:203.0px;top:624.2px;width:36.0px;height:19.0px;line-height:19.0px;">325</div>
<div class="c d" style="left:239.0px;top:624.2px;width:35.5px;height:19.0px;line-height:19.0px;">262</div>
<div class="c d" style="left:274.5px;top:624.2px;width:36.5px;height:19.0px;line-height:19.0px;">131</div>
<div class="c d" style="left:311.0px;top:624.2px;width:36.0px;height:19.0px;line-height:19.0px;">175</div>
<div class="c d" style="left:347.0px;top:624.2px;width:35.7px;height:19.0px;line-height:19.0px;">536</div>
<div class="c d" style="left:382.7px;top:624.2px;width:35.8px;height:19.0px;line-height:19.0px;">565</div>
<div class="c d" style="left:418.5px;top:624.2px;width:36.0px;height:19.0px;line-height:19.0px;">435</div>
<div class="c d" style="left:454.5px;top:624.2px;width:36.0px;height:19.0px;line-height:19.0px;">160</div>
<div class="c d" style="left:490.5px;top:624.2px;width:36.1px;height:19.0px;line-height:19.0px;">260</div>
<div class="c d" style="left:526.6px;top:624.2px;width:36.0px;height:19.0px;line-height:19.0px;">335</div>
<div class="c d" style="left:562.6px;top:624.2px;width:36.2px;height:19.0px;line-height:19.0px;">250</div>
<div class="c d" style="left:598.8px;top:624.2px;width:36.0px;height:19.0px;line-height:19.0px;">350</div>
<div class="c d" style="left:634.8px;top:624.2px;width:36.0px;height:19.0px;line-height:19.0px;">315</div>
<div class="c d" style="left:670.8px;top:624.2px;width:35.8px;height:19.0px;line-height:19.0px;">415</div>
<div class="c d" style="left:706.6px;top:624.2px;width:35.9px;height:19.0px;line-height:19.0px;">40</div>
<div class="c d" style="left:742.5px;top:624.2px;width:36.0px;height:19.0px;line-height:19.0px;">22</div>
<div class="c d" style="left:778.5px;top:624.2px;width:35.8px;height:19.0px;line-height:19.0px;">85</div>
<div class="c d" style="left:814.3px;top:624.2px;width:36.3px;height:19.0px;line-height:19.0px;">45</div>
<div class="c d" style="left:850.6px;top:624.2px;width:36.0px;height:19.0px;line-height:19.0px;">48</div>
<div class="c d" style="left:886.6px;top:624.2px;width:71.7px;height:19.0px;line-height:19.0px;">12<span class="x">×</span>8<span class="x">×</span>80</div>
<div class="c d" style="left:958.3px;top:624.2px;width:36.0px;height:19.0px;line-height:19.0px;">18</div>
<div class="c d" style="left:994.3px;top:624.2px;width:36.2px;height:19.0px;line-height:19.0px;">94.3</div>
<div class="c d" style="left:1030.5px;top:624.2px;width:36.0px;height:19.0px;line-height:19.0px;">90</div>
<div class="c d" style="left:1066.5px;top:624.2px;width:40.8px;height:19.0px;line-height:19.0px;">159.6</div>
</div></body></html>
